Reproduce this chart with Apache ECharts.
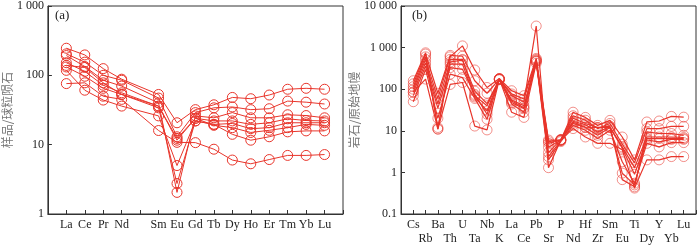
<!DOCTYPE html>
<html>
<head>
<meta charset="utf-8">
<script src="https://cdn.jsdelivr.net/npm/echarts@6/dist/echarts.min.js"></script>
<style>html,body{margin:0;padding:0;background:#fff}#c{width:700px;height:246px}</style>
</head>
<body>
<div id="c"></div>
<script>
// Panel (a): chondrite-normalised REE (position 5 = Pm, no data)
const reeNames = ['La','Ce','Pr','Nd','Sm','Eu','Gd','Tb','Dy','Ho','Er','Tm','Yb','Lu'];
const reePos   = [1,2,3,4,6,7,8,9,10,11,12,13,14,15];
const reeS1 = [246,197,125,88,53,20.7,32,37.6,48,46,52,63,65,63];
const reeS2 = [204,155,100,85,47,13,29,34,35,32,33,42.5,41,38.6];
const reeS3 = [193,134,85,70,40,2.05,26,24.4,29,24.4,24.4,27,26.3,24.4];
const reeS4 = [152,114,72,56,36,12.3,24,22,22,19.6,20.7,23.6,22.3,22];
const reeS5 = [139,130,78,53,34,2.75,22,19.6,20.2,17,17.6,20.7,20.7,20.7];
const reeS6 = [132,97,65,53,36,11.6,24,19,17.6,15,16.1,17.6,19.6,19];
const reeS7 = [118,61,44,36,26,5.0,22,19.6,14.1,11.6,13,15.3,15.8,15.8];
const reeS8 = [76,78,50,45,16,10.8,10.7,8.6,6.0,5.3,6.1,7.0,7.0,7.2];
const reeSeries = [reeS1,reeS2,reeS3,reeS4,reeS5,reeS6,reeS7,reeS8];

// Panel (b): primitive-mantle-normalised trace elements
const teNames = ['Cs','Rb','Ba','Th','U','Ta','Nb','K','La','Ce','Pb','Sr','P','Nd','Hf','Zr','Sm','Eu','Ti','Dy','Y','Yb','Lu'];
const teS1 = [100,520,60,600,1100,290,110,180,92,70,550,5,6,28,21,13.5,17.8,7.1,2.0,16.3,17.2,22.2,21.3];
const teS2 = [135,700,80,650,620,160,80,175,77,58,520,6,6,23,18,11.3,15,4.8,1.7,11.3,11.3,12.8,12.8];
const teS3 = [160,750,11,520,520,70,40,175,70,49,3300,1.3,6,20,15,12,13,0.67,0.45,9.4,8.6,8.6,7.8];
const teS4 = [85,430,45,450,500,90,45,170,55,40,480,4,6,17,14,9.4,12.3,4.1,1.3,7.1,7.1,7.1,6.9];
const teS5 = [115,600,12,400,400,65,30,180,52,36,500,2.4,5.8,16,12.3,12,12,0.96,0.5,6.5,6.5,6.5,6.5];
const teS6 = [70,360,35,330,300,75,25,175,48,34,470,3,6.2,15,12,7.8,12,3.8,0.9,6,5.4,6.2,6.2];
const teS7 = [50,300,20,230,190,60,19,170,44,28,460,2,5.5,13.5,10.3,6.5,10.3,1.8,0.55,5.0,4.1,5.2,5.2];
const teS8 = [85,175,11,130,145,13,10.5,175,28,21,420,5.5,6,11.3,7.1,5,5,3.5,0.42,2.0,2.0,2.4,2.4];
const teSeries = [teS1,teS2,teS3,teS4,teS5,teS6,teS7,teS8];

const RED = '#e8352b';
const FONT = '"Liberation Serif", "Times New Roman", serif';
const chart = echarts.init(document.getElementById('c'), null, {renderer:'canvas'});

function fmtNum(v){
  const s = String(v);
  if (v >= 1000) return s.replace(/\B(?=(\d{3})+(?!\d))/g, ' ');
  return s;
}

const series = [];
reeSeries.forEach(arr => {
  series.push({
    type:'line', xAxisIndex:0, yAxisIndex:0,
    data: arr.map((v,i)=>[reePos[i], v]),
    symbol:'circle', symbolSize:10,
    lineStyle:{color:RED, width:1},
    itemStyle:{color:'rgba(0,0,0,0)', borderColor:RED, borderWidth:1},
    emphasis:{disabled:true}, animation:false
  });
});
teSeries.forEach(arr => {
  series.push({
    type:'line', xAxisIndex:1, yAxisIndex:1,
    data: arr.map((v,i)=>[i+1, v]),
    symbol:'circle', symbolSize:10,
    lineStyle:{color:RED, width:1.2},
    itemStyle:{color:'rgba(0,0,0,0)', borderColor:'rgba(232,53,43,0.55)', borderWidth:1},
    emphasis:{disabled:true}, animation:false
  });
});

const axisLineStyle = {lineStyle:{color:'#333', width:1}};
const labelStyle = {fontFamily:FONT, fontSize:12, color:'#222'};

chart.setOption({
  animation:false,
  grid:[
    {left:45, top:4, width:298, height:210, show:true, borderColor:'#333', borderWidth:1, containLabel:false},
    {left:401, top:4, width:295, height:210, show:true, borderColor:'#333', borderWidth:1, containLabel:false}
  ],
  xAxis:[
    {type:'value', gridIndex:0, min:0, max:16, interval:1,
     axisLine:axisLineStyle, splitLine:{show:false},
     axisTick:{inside:true, length:4, lineStyle:{color:'#333'}},
     axisLabel:Object.assign({margin:5, formatter:v=>{const k=reePos.indexOf(v);return k>=0?reeNames[k]:'';}, showMinLabel:true, showMaxLabel:true}, labelStyle)},
    {type:'value', gridIndex:1, min:0, max:24, interval:1,
     axisLine:axisLineStyle, splitLine:{show:false},
     axisTick:{inside:true, length:4, lineStyle:{color:'#333'}},
     axisLabel:Object.assign({margin:4, lineHeight:14, interval:0,
       formatter:v=>{ if(v<1||v>23) return ''; const n=teNames[v-1]; return (v%2===1)? n : '\n'+n; }}, labelStyle)}
  ],
  yAxis:[
    {type:'log', gridIndex:0, logBase:10, min:1, max:1000,
     axisLine:Object.assign({show:true}, axisLineStyle), splitLine:{show:false},
     axisTick:{show:true, inside:true, length:4, lineStyle:{color:'#333'}},
     minorTick:{show:false},
     axisLabel:Object.assign({margin:4, formatter:fmtNum}, labelStyle),
     name:'样品/球粒陨石', nameLocation:'middle', nameGap:34,
     nameTextStyle:{fontFamily:'"Noto Sans CJK SC"', fontSize:12, color:'#777'}},
    {type:'log', gridIndex:1, logBase:10, min:0.1, max:10000,
     axisLine:Object.assign({show:true}, axisLineStyle), splitLine:{show:false},
     axisTick:{show:true, inside:true, length:4, lineStyle:{color:'#333'}},
     axisLabel:Object.assign({margin:4, formatter:fmtNum}, labelStyle),
     name:'岩石/原始地幔', nameLocation:'middle', nameGap:36,
     nameTextStyle:{fontFamily:'"Noto Sans CJK SC"', fontSize:12, color:'#777'}}
  ],
  graphic:[
    {type:'text', left:55, top:9, style:{text:'(a)', font:'13px '+FONT, fill:'#222'}},
    {type:'text', left:412, top:9, style:{text:'(b)', font:'13px '+FONT, fill:'#222'}}
  ],
  series: series
});
</script>
</body>
</html>
